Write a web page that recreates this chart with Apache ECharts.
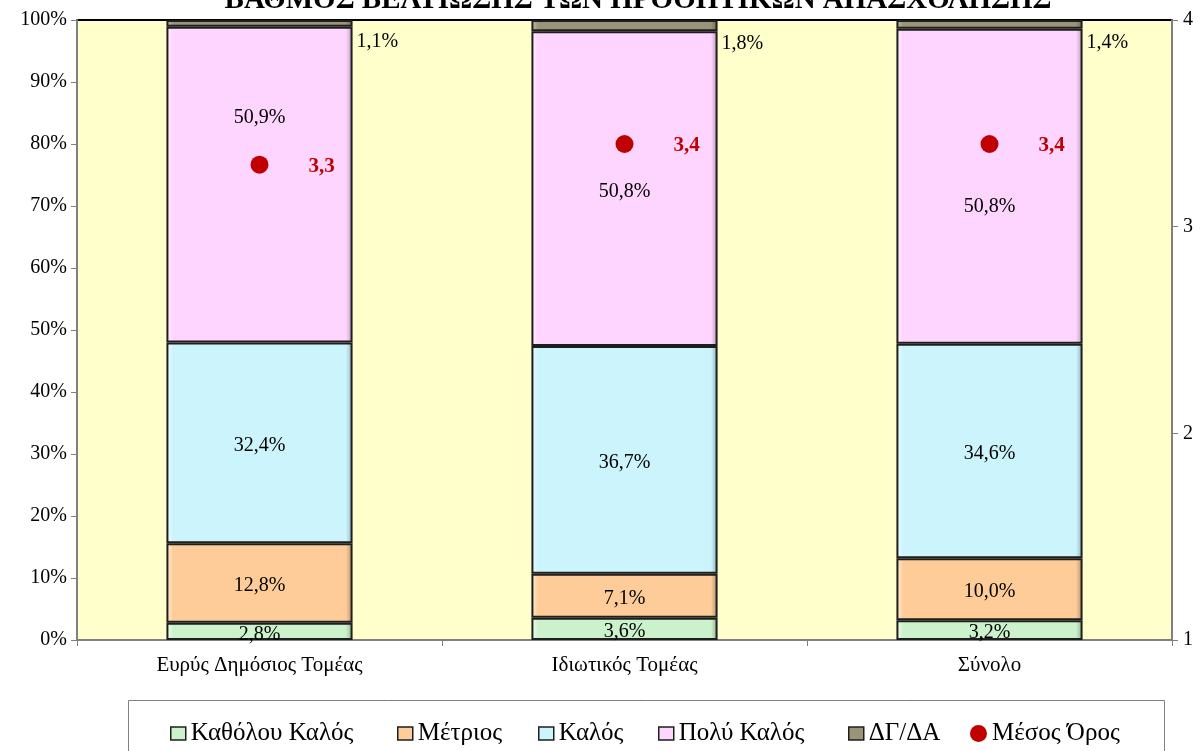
<!DOCTYPE html>
<html>
<head>
<meta charset="utf-8">
<script src="https://cdn.jsdelivr.net/npm/echarts@6/dist/echarts.min.js"></script>
<style>
html,body{margin:0;padding:0;background:#fff;}
#chart{width:1203px;height:751px;}
</style>
</head>
<body>
<div id="chart"></div>
<script>
// data
var categories = ['Ευρύς Δημόσιος Τομέας', 'Ιδιωτικός Τομέας', 'Σύνολο'];
var kathoLou = [2.8, 3.6, 3.2];
var metrios = [12.8, 7.1, 10.0];
var kalos = [32.4, 36.7, 34.6];
var polyKalos = [50.9, 50.8, 50.8];
var dgda = [1.1, 1.8, 1.4];
var mesosOros = [3.3, 3.4, 3.4];
var leftTicks = [0, 10, 20, 30, 40, 50, 60, 70, 80, 90, 100];
var rightTicks = [1, 2, 3, 4];

// the "Πολύ Καλός" labels were moved by hand in the original
var polyLabelShift = [-67, 3, 21];

var serif = "'Liberation Serif', 'DejaVu Serif', serif";

function pct(v) {
  return v.toFixed(1).replace('.', ',') + '%';
}

// flat colour with a darker right edge and lighter left edge, like the bevel
function bevel(c, light, dark) {
  return new echarts.graphic.LinearGradient(0, 0, 1, 0, [
    { offset: 0, color: light },
    { offset: 0.035, color: c },
    { offset: 0.965, color: c },
    { offset: 1, color: dark }
  ]);
}

function barSeries(name, data, fill, labelPos) {
  return {
    name: name,
    type: 'bar',
    stack: 'total',
    barWidth: '51%',
    data: data,
    itemStyle: {
      color: fill,
      borderColor: '#1e1e1e',
      borderWidth: 2
    },
    label: {
      show: true,
      position: labelPos || 'inside',
      distance: 4,
      offset: labelPos === 'right' ? [0, 18] : [0, 3],
      fontFamily: serif,
      fontSize: 20,
      color: '#000',
      formatter: function (p) { return pct(p.value); }
    }
  };
}

var legendNames = ['Καθόλου Καλός', 'Μέτριος', 'Καλός', 'Πολύ Καλός', 'ΔΓ/ΔΑ', 'Μέσος Όρος'];
var legendLeft = [165, 392, 533, 653, 843, 965];

var legends = legendNames.map(function (n, i) {
  var isDot = n === 'Μέσος Όρος';
  return {
    left: legendLeft[i],
    top: 716,
    itemWidth: isDot ? 17 : 15,
    itemHeight: isDot ? 17 : 13,
    itemGap: 0,
    textStyle: { fontFamily: serif, fontSize: 25, color: '#000' },
    data: [{
      name: n,
      icon: isDot ? 'circle' : 'rect',
      itemStyle: isDot ? { borderWidth: 0 } : { borderColor: '#1e1e1e', borderWidth: 1.5 }
    }]
  };
});

var chart = echarts.init(document.getElementById('chart'));

var option = {
  animation: false,
  backgroundColor: '#fff',
  title: {
    text: 'ΒΑΘΜΟΣ ΒΕΛΤΙΩΣΗΣ ΤΩΝ ΠΡΟΟΠΤΙΚΩΝ ΑΠΑΣΧΟΛΗΣΗΣ',
    left: 633,
    textAlign: 'center',
    top: -19,
    textStyle: {
      fontFamily: serif,
      fontWeight: 'bold',
      fontSize: 29,
      color: '#000'
    }
  },
  graphic: [{
    type: 'rect',
    shape: { x: 128.5, y: 700.5, width: 1036, height: 70 },
    style: { fill: '#fff', stroke: '#808080', lineWidth: 1 },
    z: -1
  }],
  legend: legends,
  grid: {
    left: 77,
    right: 31,
    top: 20,
    bottom: 111,
    show: true,
    backgroundColor: '#ffffcc',
    borderColor: '#000',
    borderWidth: 2
  },
  xAxis: {
    type: 'category',
    data: categories,
    axisLine: { lineStyle: { color: '#808080', width: 2 } },
    axisTick: { show: true, length: 6, lineStyle: { color: '#808080' } },
    axisLabel: { fontFamily: serif, fontSize: 21, color: '#000', margin: 15 }
  },
  yAxis: [{
    type: 'value',
    min: leftTicks[0],
    max: leftTicks[leftTicks.length - 1],
    interval: 10,
    position: 'left',
    axisLine: { show: true, lineStyle: { color: '#808080', width: 2 } },
    axisTick: { show: true, length: 6, lineStyle: { color: '#808080' } },
    splitLine: { show: false },
    axisLabel: { fontFamily: serif, fontSize: 20, color: '#000', margin: 10, formatter: '{value}%' }
  }, {
    type: 'value',
    min: rightTicks[0],
    max: rightTicks[rightTicks.length - 1],
    interval: 1,
    position: 'right',
    axisLine: { show: true, lineStyle: { color: '#808080', width: 2 } },
    axisTick: { show: true, length: 6, lineStyle: { color: '#808080' } },
    splitLine: { show: false },
    axisLabel: { fontFamily: serif, fontSize: 20, color: '#000', margin: 11 }
  }],
  series: [
    barSeries('Καθόλου Καλός', kathoLou, bevel('#ccf2cc', '#f2fff2', '#8fae8f')),
    barSeries('Μέτριος', metrios, bevel('#fdcc99', '#fff0dc', '#b58e66')),
    barSeries('Καλός', kalos, bevel('#ccf4fd', '#f0fcff', '#8fb0b8')),
    (function () {
      var s = barSeries('Πολύ Καλός', polyKalos, bevel('#fed5fe', '#fff2ff', '#b696b6'));
      s.data = polyKalos.map(function (v, i) {
        return { value: v, label: { offset: [0, polyLabelShift[i]] } };
      });
      return s;
    })(),
    barSeries('ΔΓ/ΔΑ', dgda, bevel('#9a9478', '#c9c4aa', '#6c6753'), 'right'),
    {
      name: 'Μέσος Όρος',
      type: 'scatter',
      yAxisIndex: 1,
      data: mesosOros,
      symbol: 'circle',
      symbolSize: 18,
      itemStyle: { color: '#c00000', opacity: 1 },
      z: 10,
      label: {
        show: true,
        position: 'right',
        distance: 40,
        offset: [0, 2],
        fontFamily: serif,
        fontSize: 21,
        fontWeight: 'bold',
        color: '#c00000',
        formatter: function (p) { return String(p.value).replace('.', ','); }
      }
    }
  ]
};

chart.setOption(option);
</script>
</body>
</html>
